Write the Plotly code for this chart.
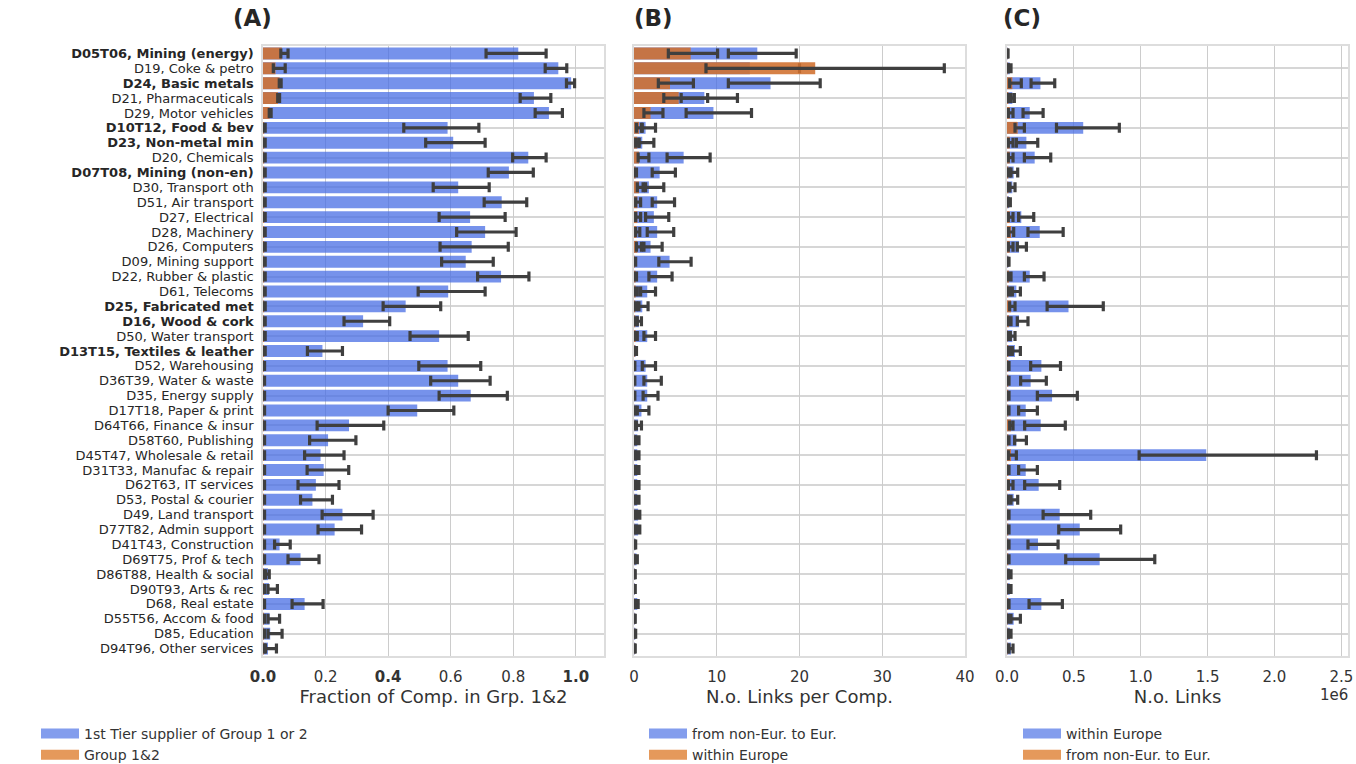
import plotly.graph_objects as go

# ---------------- data ----------------
sectors = [
    "D05T06, Mining (energy)", "D19, Coke & petro", "D24, Basic metals", "D21, Pharmaceuticals",
    "D29, Motor vehicles", "D10T12, Food & bev", "D23, Non-metal min", "D20, Chemicals",
    "D07T08, Mining (non-en)", "D30, Transport oth", "D51, Air transport", "D27, Electrical",
    "D28, Machinery", "D26, Computers", "D09, Mining support", "D22, Rubber & plastic",
    "D61, Telecoms", "D25, Fabricated met", "D16, Wood & cork", "D50, Water transport",
    "D13T15, Textiles & leather", "D52, Warehousing", "D36T39, Water & waste", "D35, Energy supply",
    "D17T18, Paper & print", "D64T66, Finance & insur", "D58T60, Publishing", "D45T47, Wholesale & retail",
    "D31T33, Manufac & repair", "D62T63, IT services", "D53, Postal & courier", "D49, Land transport",
    "D77T82, Admin support", "D41T43, Construction", "D69T75, Prof & tech", "D86T88, Health & social",
    "D90T93, Arts & rec", "D68, Real estate", "D55T56, Accom & food", "D85, Education",
    "D94T96, Other services",
]
bold_sectors = [
    "D05T06, Mining (energy)", "D24, Basic metals", "D10T12, Food & bev", "D23, Non-metal min",
    "D07T08, Mining (non-en)", "D25, Fabricated met", "D16, Wood & cork", "D13T15, Textiles & leather",
]

# Panel A: fraction of companies
a_tier1_mean = [0.816, 0.944, 0.985, 0.866, 0.914, 0.590, 0.608, 0.848, 0.786, 0.624, 0.763, 0.662,
                0.710, 0.667, 0.648, 0.761, 0.592, 0.456, 0.320, 0.563, 0.190, 0.590, 0.624, 0.664,
                0.493, 0.275, 0.208, 0.184, 0.194, 0.169, 0.158, 0.254, 0.229, 0.053, 0.120, 0.016,
                0.019, 0.133, 0.021, 0.023, 0.016]
a_tier1_lo = [0.713, 0.902, 0.970, 0.822, 0.870, 0.450, 0.520, 0.798, 0.720, 0.544, 0.707, 0.563,
              0.619, 0.566, 0.571, 0.686, 0.496, 0.384, 0.259, 0.470, 0.142, 0.498, 0.536, 0.563,
              0.400, 0.173, 0.149, 0.133, 0.141, 0.112, 0.120, 0.189, 0.176, 0.037, 0.080, 0.008,
              0.016, 0.093, 0.016, 0.016, 0.008]
a_tier1_hi = [0.905, 0.971, 0.996, 0.920, 0.957, 0.690, 0.710, 0.905, 0.864, 0.723, 0.843, 0.774,
              0.809, 0.784, 0.736, 0.850, 0.710, 0.568, 0.405, 0.656, 0.254, 0.696, 0.726, 0.781,
              0.610, 0.386, 0.297, 0.259, 0.274, 0.243, 0.222, 0.352, 0.315, 0.087, 0.179, 0.020,
              0.046, 0.192, 0.053, 0.061, 0.043]
a_grp_mean = [0.060, 0.040, 0.053, 0.048, 0.021, 0.004, 0.004, 0.004, 0.004, 0.004, 0.004, 0.004,
              0.004, 0.004, 0.004, 0.004, 0.004, 0.004, 0.004, 0.004, 0.004, 0.003, 0.003, 0.003,
              0.003, 0.003, 0.003, 0.003, 0.003, 0.003, 0.003, 0.003, 0.003, 0.003, 0.003, 0.003,
              0.003, 0.003, 0.003, 0.003, 0.003]
a_grp_lo = [0.057, 0.033, 0.052, 0.047, 0.020, 0.002, 0.002, 0.002, 0.002, 0.002, 0.002, 0.002,
            0.002, 0.002, 0.002, 0.002, 0.002, 0.002, 0.002, 0.002, 0.002, 0.001, 0.001, 0.001,
            0.001, 0.001, 0.001, 0.001, 0.001, 0.001, 0.001, 0.001, 0.001, 0.001, 0.001, 0.001,
            0.001, 0.001, 0.001, 0.001, 0.001]
a_grp_hi = [0.080, 0.071, 0.058, 0.053, 0.026, 0.007, 0.007, 0.007, 0.007, 0.007, 0.007, 0.007,
            0.007, 0.007, 0.007, 0.007, 0.007, 0.007, 0.007, 0.007, 0.007, 0.005, 0.005, 0.005,
            0.005, 0.005, 0.005, 0.005, 0.005, 0.005, 0.005, 0.005, 0.005, 0.005, 0.005, 0.005,
            0.005, 0.005, 0.005, 0.005, 0.005]

# Panel B: number of links per company
b_noneur_mean = [14.9, 14.0, 16.5, 8.5, 9.6, 1.4, 1.0, 6.0, 3.1, 1.8, 2.8, 2.4, 2.8, 2.0, 4.3, 2.8,
                 1.6, 1.0, 0.6, 1.6, 0.2, 1.4, 1.6, 1.6, 0.9, 0.5, 0.4, 0.4, 0.4, 0.4, 0.4, 0.5,
                 0.5, 0.15, 0.3, 0.1, 0.1, 0.4, 0.1, 0.15, 0.1]
b_noneur_lo = [11.4, 8.7, 11.4, 5.7, 6.3, 0.9, 0.6, 4.0, 2.2, 1.1, 2.2, 1.4, 1.6, 1.2, 3.0, 1.8,
               0.8, 0.6, 0.4, 1.2, 0.1, 1.0, 1.2, 1.1, 0.4, 0.3, 0.3, 0.3, 0.3, 0.3, 0.3, 0.35,
               0.35, 0.1, 0.2, 0.05, 0.05, 0.3, 0.05, 0.1, 0.05]
b_noneur_hi = [19.6, 20.0, 22.5, 12.5, 14.2, 2.6, 2.4, 9.2, 5.0, 3.6, 4.9, 4.2, 4.8, 3.4, 6.9, 4.6,
               2.6, 1.7, 0.9, 2.6, 0.3, 2.6, 3.3, 2.9, 1.8, 0.9, 0.6, 0.6, 0.6, 0.6, 0.6, 0.7,
               0.7, 0.2, 0.4, 0.15, 0.15, 0.5, 0.15, 0.2, 0.15]
b_eur_mean = [6.85, 21.9, 4.35, 5.4, 2.0, 0.6, 0.4, 0.6, 0.2, 0.6, 0.4, 0.4, 0.3, 0.4, 0.1, 0.2,
              0.2, 0.15, 0.15, 0.2, 0.1, 0.05, 0.05, 0.05, 0.05, 0.05, 0.05, 0.05, 0.05, 0.05, 0.05,
              0.05, 0.05, 0.03, 0.05, 0.03, 0.03, 0.05, 0.03, 0.03, 0.03]
b_eur_lo = [4.15, 8.7, 2.94, 3.6, 1.2, 0.3, 0.2, 0.5, 0.1, 0.4, 0.2, 0.2, 0.2, 0.3, 0.05, 0.1,
            0.1, 0.1, 0.1, 0.1, 0.05, 0.03, 0.03, 0.03, 0.03, 0.03, 0.03, 0.03, 0.03, 0.03, 0.03,
            0.03, 0.03, 0.02, 0.03, 0.02, 0.02, 0.03, 0.02, 0.02, 0.02]
b_eur_hi = [10.1, 37.5, 7.18, 8.9, 3.5, 1.0, 0.6, 1.8, 0.3, 1.4, 0.8, 0.8, 0.7, 0.9, 0.2, 0.3,
            0.4, 0.3, 0.3, 0.4, 0.2, 0.1, 0.1, 0.1, 0.1, 0.1, 0.1, 0.1, 0.1, 0.1, 0.1,
            0.1, 0.1, 0.05, 0.1, 0.05, 0.05, 0.1, 0.05, 0.05, 0.05]

# Panel C: number of links (millions)
c_eur_mean = [0.005, 0.020, 0.250, 0.040, 0.170, 0.570, 0.145, 0.207, 0.050, 0.040, 0.015, 0.107,
              0.245, 0.090, 0.010, 0.170, 0.070, 0.460, 0.090, 0.040, 0.060, 0.257, 0.177, 0.337,
              0.140, 0.252, 0.070, 1.490, 0.140, 0.237, 0.050, 0.394, 0.544, 0.232, 0.693, 0.020,
              0.020, 0.257, 0.050, 0.020, 0.030]
c_eur_lo = [0.003, 0.012, 0.180, 0.030, 0.120, 0.370, 0.070, 0.130, 0.030, 0.020, 0.010, 0.087,
            0.157, 0.077, 0.005, 0.130, 0.040, 0.300, 0.077, 0.025, 0.040, 0.177, 0.102, 0.227,
            0.087, 0.132, 0.057, 0.988, 0.087, 0.132, 0.030, 0.270, 0.387, 0.157, 0.439, 0.012,
            0.012, 0.165, 0.030, 0.012, 0.015]
c_eur_hi = [0.008, 0.030, 0.357, 0.055, 0.270, 0.840, 0.230, 0.327, 0.080, 0.060, 0.025, 0.200,
            0.420, 0.145, 0.015, 0.277, 0.100, 0.720, 0.157, 0.060, 0.100, 0.400, 0.294, 0.526,
            0.227, 0.436, 0.145, 2.314, 0.227, 0.394, 0.080, 0.626, 0.850, 0.382, 1.105, 0.030,
            0.030, 0.414, 0.100, 0.030, 0.045]
c_noneur_mean = [0.002, 0.005, 0.040, 0.010, 0.020, 0.080, 0.020, 0.020, 0.010, 0.010, 0.005, 0.020,
                 0.030, 0.020, 0.003, 0.015, 0.010, 0.030, 0.015, 0.005, 0.010, 0.010, 0.010, 0.010,
                 0.010, 0.030, 0.010, 0.030, 0.010, 0.020, 0.005, 0.010, 0.010, 0.010, 0.010, 0.005,
                 0.005, 0.010, 0.005, 0.005, 0.005]
c_noneur_lo = [0.001, 0.003, 0.020, 0.005, 0.010, 0.060, 0.010, 0.010, 0.005, 0.005, 0.002, 0.010,
               0.012, 0.010, 0.001, 0.010, 0.005, 0.020, 0.010, 0.003, 0.005, 0.005, 0.005, 0.005,
               0.005, 0.020, 0.005, 0.010, 0.005, 0.010, 0.003, 0.005, 0.005, 0.005, 0.005, 0.003,
               0.003, 0.005, 0.003, 0.003, 0.003]
c_noneur_hi = [0.003, 0.010, 0.107, 0.020, 0.045, 0.130, 0.045, 0.045, 0.020, 0.020, 0.010, 0.045,
               0.050, 0.045, 0.005, 0.030, 0.020, 0.060, 0.030, 0.010, 0.020, 0.015, 0.015, 0.015,
               0.015, 0.045, 0.015, 0.070, 0.015, 0.045, 0.010, 0.015, 0.015, 0.015, 0.015, 0.010,
               0.010, 0.015, 0.010, 0.010, 0.010]

a_ticks = [0.0, 0.2, 0.4, 0.6, 0.8, 1.0]
a_ticks_bold = [0.0, 0.4, 1.0]
b_ticks = [0, 10, 20, 30, 40]
c_ticks = [0.0, 0.5, 1.0, 1.5, 2.0, 2.5]

# ---------------- styling ----------------
W, H = 1356, 764
BLUE = "rgba(72,110,228,0.75)"
ORANGE = "rgba(208,112,45,0.88)"
LEG_BLUE = "rgba(72,110,228,0.68)"
LEG_ORANGE = "rgba(222,128,50,0.80)"
ERR = "#3f3f3f"
FONT = "DejaVu Sans"
GRID = "#cccccc"
FRAME = "#dddddd"

n = len(sectors)
ypos = list(range(n))


def err(mean, lo, hi):
    return dict(type="data", symmetric=False,
                array=[h - m for m, h in zip(mean, hi)],
                arrayminus=[m - l for m, l in zip(mean, lo)],
                color=ERR, thickness=3.2, width=5)


fig = go.Figure()

def add_pair(xa, ya, leg, first, second):
    for (name, color, legcolor, mean, lo, hi) in (first, second):
        fig.add_trace(go.Bar(
            y=ypos, x=mean, orientation="h", name=name, width=0.8,
            marker=dict(color=color, line=dict(width=0)), showlegend=False,
            error_x=err(mean, lo, hi), xaxis=xa, yaxis=ya,
        ))
        # legend entry (wide patch like the original), no data drawn
        fig.add_trace(go.Scatter(
            x=[None], y=[None], mode="lines", name=name,
            line=dict(color=legcolor, width=12), xaxis=xa, yaxis=ya,
            legend=leg, hoverinfo="skip",
        ))

add_pair("x", "y", "legend",
         ("1st Tier supplier of Group 1 or 2", BLUE, LEG_BLUE, a_tier1_mean, a_tier1_lo, a_tier1_hi),
         ("Group 1&2", ORANGE, LEG_ORANGE, a_grp_mean, a_grp_lo, a_grp_hi))
add_pair("x2", "y2", "legend2",
         ("from non-Eur. to Eur.", BLUE, LEG_BLUE, b_noneur_mean, b_noneur_lo, b_noneur_hi),
         ("within Europe", ORANGE, LEG_ORANGE, b_eur_mean, b_eur_lo, b_eur_hi))
add_pair("x3", "y3", "legend3",
         ("within Europe", BLUE, LEG_BLUE, c_eur_mean, c_eur_lo, c_eur_hi),
         ("from non-Eur. to Eur.", ORANGE, LEG_ORANGE, c_noneur_mean, c_noneur_lo, c_noneur_hi))

ticktext_y = [f"<b>{s}</b>" if s in bold_sectors else s for s in sectors]
odd_rows = [i for i in ypos if i % 2 == 1]

def px_x(p):
    return p / W

def px_y(p):
    return 1 - p / H

ydom = [px_y(656), px_y(46)]

def yaxis_cfg(show_labels):
    return dict(
        domain=ydom, range=[n - 0.5, -0.5], tickmode="array", tickvals=ypos,
        ticktext=ticktext_y, showticklabels=show_labels, showgrid=False, zeroline=False,
        ticks="", ticklabelstandoff=5, automargin=False,
        tickfont=dict(family=FONT, size=13, color="#262626"),
        showline=True, mirror=True, linecolor=FRAME, linewidth=1.5,
        minor=dict(tickmode="array", tickvals=odd_rows, showgrid=True,
                   gridcolor="#d6d6d6", gridwidth=1.6, ticks=""),
    )

def xaxis_cfg(dom, rng, tickvals, ticktext, title, anchor):
    return dict(
        domain=dom, range=rng, tickmode="array", tickvals=tickvals, ticktext=ticktext,
        showgrid=True, gridcolor=GRID, gridwidth=1, zeroline=False, ticks="", automargin=False,
        ticklabelstandoff=6,
        tickfont=dict(family=FONT, size=15, color="#333333"),
        showline=True, mirror=True, linecolor=FRAME, linewidth=1.5, anchor=anchor,
        title=dict(text=title, font=dict(family=FONT, size=18, color="#333333"), standoff=6),
    )

a_ticktext = [f"<b>{t:.1f}</b>" if t in a_ticks_bold else f"{t:.1f}" for t in a_ticks]
b_ticktext = [str(t) for t in b_ticks]
c_ticktext = [f"{t:.1f}" for t in c_ticks]

legend_common = dict(yanchor="top", xanchor="left", bgcolor="rgba(0,0,0,0)",
                     font=dict(family=FONT, size=14, color="#333333"),
                     itemwidth=38, traceorder="normal", tracegroupgap=0)

def title_ann(text, x):
    return dict(text=f"<b>{text}</b>", x=px_x(x), y=px_y(18), xref="paper", yref="paper",
                xanchor="center", yanchor="middle", showarrow=False,
                font=dict(family=FONT, size=23, color="#262626"))

fig.update_layout(
    width=W, height=H, margin=dict(l=0, r=0, t=0, b=0, autoexpand=False),
    plot_bgcolor="white", paper_bgcolor="white", barmode="overlay",
    font=dict(family=FONT, color="#333333"),
    xaxis=xaxis_cfg([px_x(263), px_x(604)], [0, 1.09], a_ticks, a_ticktext,
                    "Fraction of Comp. in Grp. 1&2", "y"),
    xaxis2=xaxis_cfg([px_x(634), px_x(965)], [0, 40], b_ticks, b_ticktext,
                     "N.o. Links per Comp.", "y2"),
    xaxis3=xaxis_cfg([px_x(1007), px_x(1348)], [0, 2.55], c_ticks, c_ticktext,
                     "N.o. Links", "y3"),
    yaxis=dict(yaxis_cfg(True), anchor="x"),
    yaxis2=dict(yaxis_cfg(False), anchor="x2"),
    yaxis3=dict(yaxis_cfg(False), anchor="x3"),
    legend=dict(legend_common, x=px_x(36), y=px_y(718)),
    legend2=dict(legend_common, x=px_x(644), y=px_y(718)),
    legend3=dict(legend_common, x=px_x(1018), y=px_y(718)),
    annotations=[
        title_ann("(A)", 252),
        title_ann("(B)", 653),
        title_ann("(C)", 1022),
        dict(text="1e6", x=px_x(1334), y=px_y(695), xref="paper", yref="paper",
             xanchor="center", yanchor="middle", showarrow=False,
             font=dict(family=FONT, size=15, color="#333333")),
    ],
)

fig.write_html("out.html", config={"displayModeBar": False})

# remove the browser's default page margin so the figure fills the window exactly
with open("out.html", "r", encoding="utf-8") as f:
    html = f.read()
html = html.replace("<head>", "<head><style>html,body{margin:0;padding:0;overflow:hidden;}</style>", 1)
with open("out.html", "w", encoding="utf-8") as f:
    f.write(html)
